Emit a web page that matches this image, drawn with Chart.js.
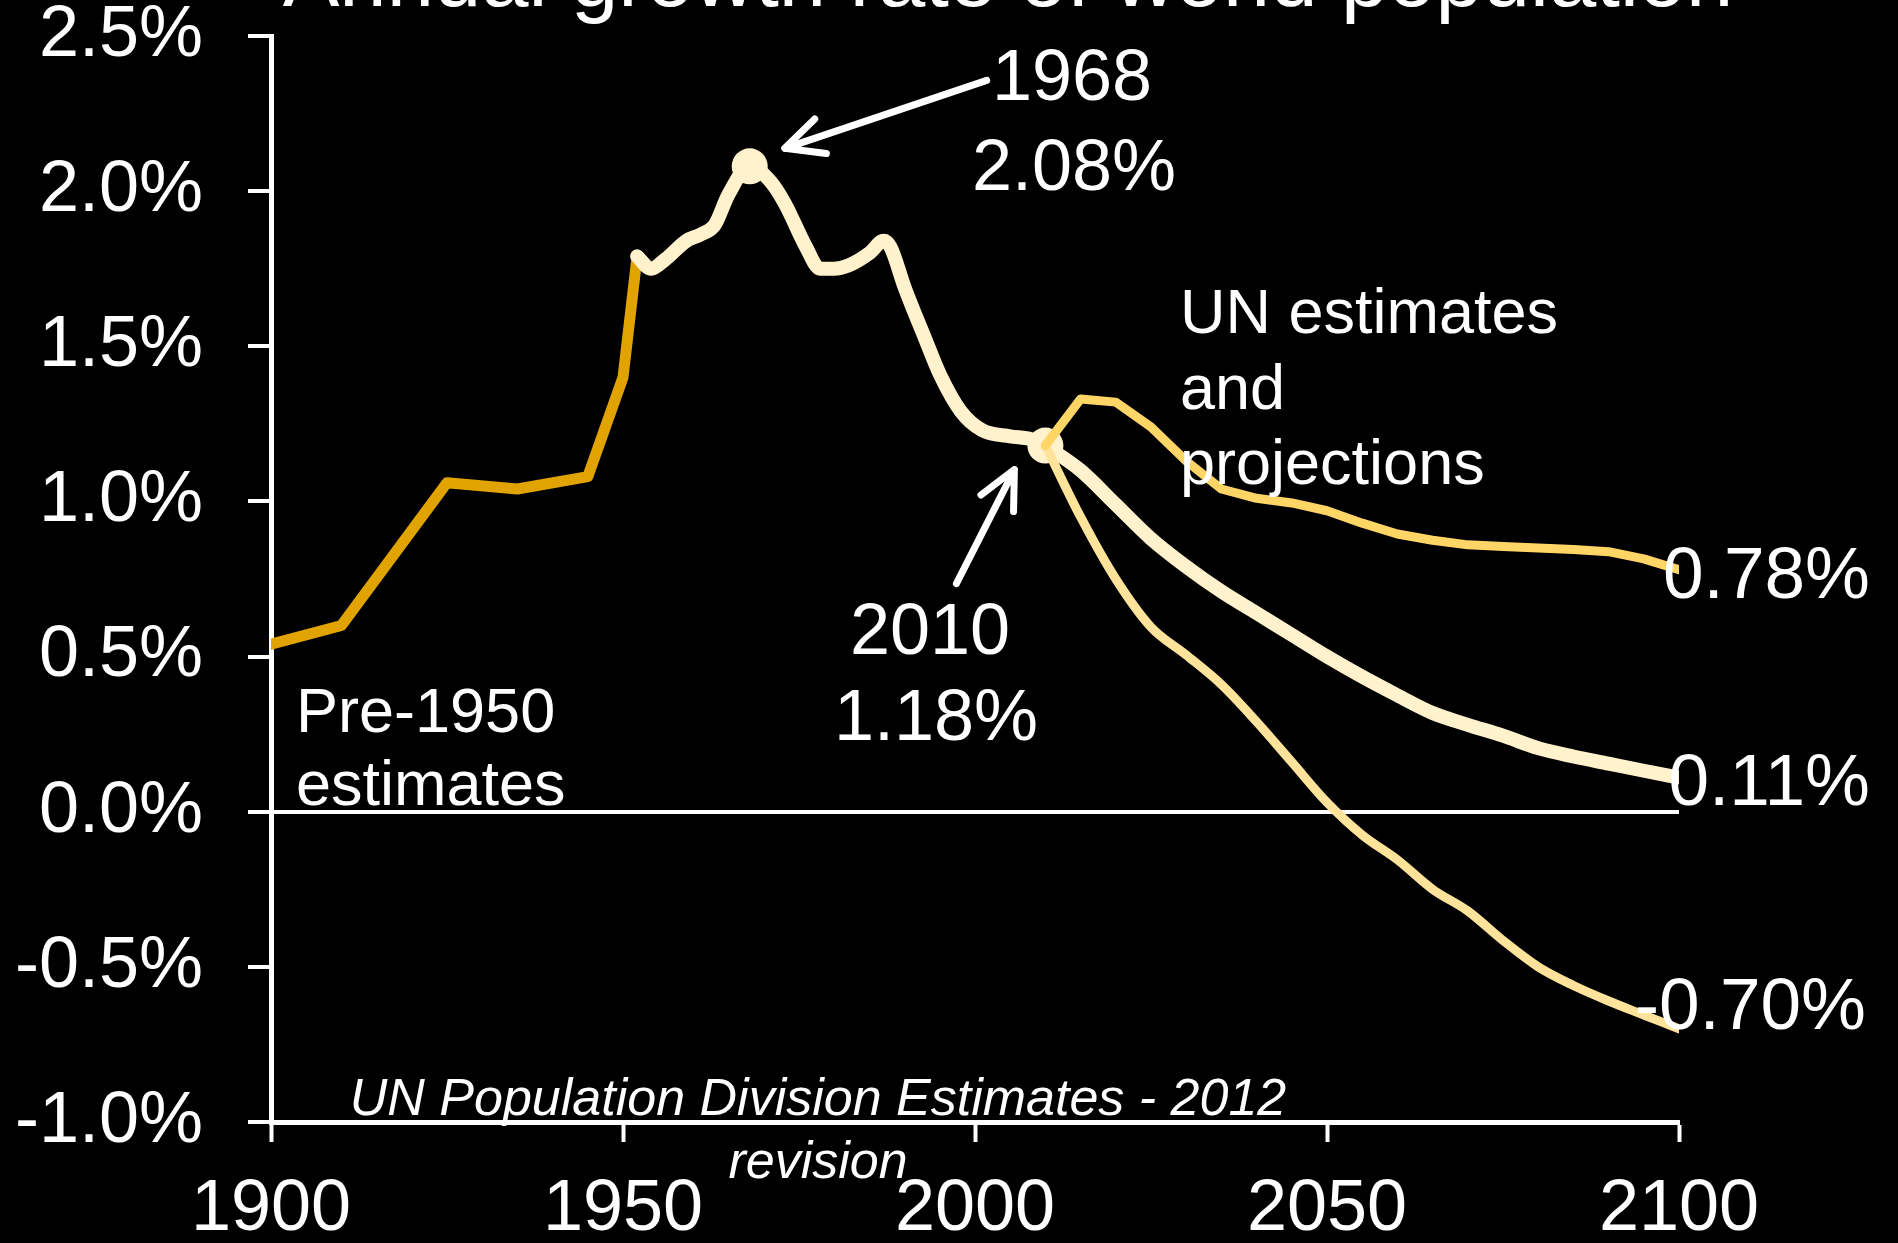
<!DOCTYPE html>
<html lang="en">
<head>
<meta charset="UTF-8">
<title>Annual growth rate of world population</title>
<script src="https://cdn.jsdelivr.net/npm/chart.js"></script>
<style>
  html, body { margin: 0; padding: 0; background: #000; }
  canvas { display: block; }
</style>
</head>
<body>
<canvas id="growthChart" width="1898" height="1243"></canvas>
<script>
// Annual growth rate of world population (% per year)
const preYears = [1900, 1910, 1925, 1935, 1945, 1950, 1952];
const preRate  = [0.54, 0.60, 1.06, 1.04, 1.08, 1.40, 1.79];

const histYears = [1952, 1954, 1956, 1959, 1961, 1963, 1965, 1968, 1971, 1973, 1976, 1978, 1980,
                   1982, 1985, 1987, 1988, 1990, 1993, 1995, 1998, 2001, 2005, 2008, 2010];
const histRate  = [1.79, 1.75, 1.78, 1.84, 1.86, 1.89, 1.99, 2.08, 2.03, 1.96, 1.82, 1.75, 1.75,
                   1.76, 1.80, 1.84, 1.82, 1.69, 1.52, 1.41, 1.29, 1.23, 1.21, 1.20, 1.18];

const projYears = [2010, 2015, 2020, 2025, 2030, 2035, 2040, 2045, 2050, 2055,
                   2060, 2065, 2070, 2075, 2080, 2085, 2090, 2095, 2100];
const highRate = [1.18, 1.33, 1.32, 1.24, 1.13, 1.04, 1.01, 0.995, 0.97, 0.93,
                  0.895, 0.875, 0.86, 0.855, 0.85, 0.845, 0.838, 0.815, 0.78];
const medRate  = [1.18, 1.10, 0.99, 0.88, 0.79, 0.71, 0.64, 0.57, 0.50, 0.435,
                  0.375, 0.318, 0.28, 0.245, 0.205, 0.178, 0.155, 0.132, 0.11];
const lowRate  = [1.18, 0.95, 0.75, 0.595, 0.505, 0.41, 0.29, 0.16, 0.03, -0.075,
                  -0.155, -0.25, -0.32, -0.415, -0.50, -0.56, -0.61, -0.655, -0.70];

const markYears = [1968, 2010];
const markRate  = [2.08, 1.18];

const xTicks = [1900, 1950, 2000, 2050, 2100];
const yTicks = [-1.0, -0.5, 0.0, 0.5, 1.0, 1.5, 2.0, 2.5];

const FONT = "'Liberation Sans', Arial, sans-serif";
const GOLD = '#E0A300';
const CREAM = '#FFF2CC';
const HIGH = '#FFD566';
const LOW = '#FFE39A';

function pts(xs, ys) {
  return xs.map((x, i) => ({ x: x, y: ys[i] }));
}

function pct(v) {
  return v.toFixed(2) + '%';
}

function arrow(ctx, x1, y1, x2, y2) {
  const ang = Math.atan2(y1 - y2, x1 - x2);
  const len = 42, spread = 0.45;
  ctx.beginPath();
  ctx.moveTo(x1, y1);
  ctx.lineTo(x2, y2);
  ctx.moveTo(x2 + len * Math.cos(ang - spread), y2 + len * Math.sin(ang - spread));
  ctx.lineTo(x2, y2);
  ctx.lineTo(x2 + len * Math.cos(ang + spread), y2 + len * Math.sin(ang + spread));
  ctx.stroke();
}

// black backdrop, annotation text and arrows
const notes = {
  id: 'notes',
  beforeDraw(chart) {
    const ctx = chart.ctx;
    ctx.save();
    ctx.fillStyle = '#000';
    ctx.fillRect(0, 0, chart.width, chart.height);
    ctx.restore();
  },
  afterDatasetsDraw(chart) {
    const ctx = chart.ctx;
    const xs = chart.scales.x, ys = chart.scales.y;
    ctx.save();
    ctx.fillStyle = '#fff';
    ctx.strokeStyle = '#fff';
    ctx.textBaseline = 'alphabetic';

    ctx.font = '85px ' + FONT;
    ctx.textAlign = 'center';
    ctx.fillText('Annual growth rate of world population', 1008, 6);

    // peak
    const px = xs.getPixelForValue(markYears[0]), py = ys.getPixelForValue(markRate[0]);
    ctx.font = '72px ' + FONT;
    ctx.fillText(String(markYears[0]), 1072, 100);
    ctx.fillText(markRate[0].toFixed(2) + '%', 1074, 190);
    ctx.lineWidth = 7;
    ctx.lineCap = 'round';
    ctx.lineJoin = 'round';
    arrow(ctx, px + 237, py - 86, px + 35, py - 18);

    // 2010
    const qx = xs.getPixelForValue(markYears[1]), qy = ys.getPixelForValue(markRate[1]);
    ctx.fillText(String(markYears[1]), 930, 654);
    ctx.fillText(markRate[1].toFixed(2) + '%', 936, 740);
    arrow(ctx, qx - 89, qy + 138, qx - 31, qy + 24);

    ctx.font = '63px ' + FONT;
    ctx.textAlign = 'left';
    ctx.fillText('Pre-1950', 296, 732);
    ctx.fillText('estimates', 296, 805);
    ctx.fillText('UN estimates', 1180, 333);
    ctx.fillText('and', 1180, 409);
    ctx.fillText('projections', 1180, 484);

    // end-of-century values
    ctx.font = '73px ' + FONT;
    ctx.textAlign = 'right';
    ctx.fillText(pct(highRate[highRate.length - 1]), 1870, 598);
    ctx.fillText(pct(medRate[medRate.length - 1]), 1870, 805);
    ctx.fillText(pct(lowRate[lowRate.length - 1]), 1866, 1029);

    ctx.font = 'italic 52px ' + FONT;
    ctx.textAlign = 'center';
    ctx.fillText('UN Population Division Estimates - 2012', 818, 1115);
    ctx.fillText('revision', 818, 1178);
    ctx.restore();
  }
};

const line = (label, data, color, width, smooth) => ({
  type: 'line',
  label: label,
  data: data,
  borderColor: color,
  backgroundColor: color,
  borderWidth: width,
  pointRadius: 0,
  fill: false,
  borderCapStyle: 'round',
  borderJoinStyle: 'round',
  cubicInterpolationMode: smooth ? 'monotone' : 'default',
  tension: 0
});

new Chart(document.getElementById('growthChart'), {
  type: 'scatter',
  data: {
    // first dataset is painted last (on top)
    datasets: [
      line('High variant', pts(projYears, highRate), HIGH, 9, false),
      line('Low variant', pts(projYears, lowRate), LOW, 9, true),
      {
        type: 'scatter',
        label: 'Markers',
        data: pts(markYears, markRate),
        pointRadius: 18,
        pointHoverRadius: 18,
        backgroundColor: CREAM,
        borderColor: CREAM,
        borderWidth: 0
      },
      line('Medium variant', pts(projYears, medRate), CREAM, 14, true),
      line('1950-2010', pts(histYears, histRate), CREAM, 14, true),
      line('Pre-1950 estimates', pts(preYears, preRate), GOLD, 11, false)
    ]
  },
  options: {
    responsive: false,
    devicePixelRatio: 1,
    animation: false,
    events: [],
    layout: { padding: { left: 0, right: 219, top: 36, bottom: 0 } },
    plugins: {
      legend: { display: false },
      tooltip: { enabled: false },
      title: { display: false }
    },
    scales: {
      x: {
        type: 'linear',
        min: 1900,
        max: 2100,
        afterBuildTicks: (s) => { s.ticks = xTicks.map(v => ({ value: v })); },
        afterFit: (s) => { s.height = 121; },
        ticks: {
          color: '#fff',
          padding: 25,
          maxRotation: 0,
          font: { family: FONT, size: 72 },
          callback: (v) => String(v)
        },
        grid: {
          drawOnChartArea: false,
          drawTicks: true,
          tickLength: 20,
          tickColor: '#fff',
          tickWidth: 4
        },
        border: { display: true, color: '#fff', width: 5 }
      },
      y: {
        type: 'linear',
        min: -1,
        max: 2.5,
        afterBuildTicks: (s) => { s.ticks = yTicks.map(v => ({ value: v })); },
        afterFit: (s) => {
          s.width = 271;
          // the label gap should not push the plot area down
          s.paddingTop = 36;
          s.paddingBottom = 36;
        },
        ticks: {
          color: '#fff',
          padding: 45,
          font: { family: FONT, size: 72, lineHeight: 1 },
          callback: (v) => v.toFixed(1) + '%'
        },
        grid: {
          drawOnChartArea: true,
          color: (c) => (c.tick && c.tick.value === 0 ? '#fff' : 'rgba(0,0,0,0)'),
          lineWidth: (c) => (c.tick && c.tick.value === 0 ? 4 : 0),
          tickLength: 23,
          tickColor: '#fff',
          tickWidth: 4
        },
        border: { display: true, color: '#fff', width: 5 }
      }
    }
  },
  plugins: [notes]
});
</script>
</body>
</html>
